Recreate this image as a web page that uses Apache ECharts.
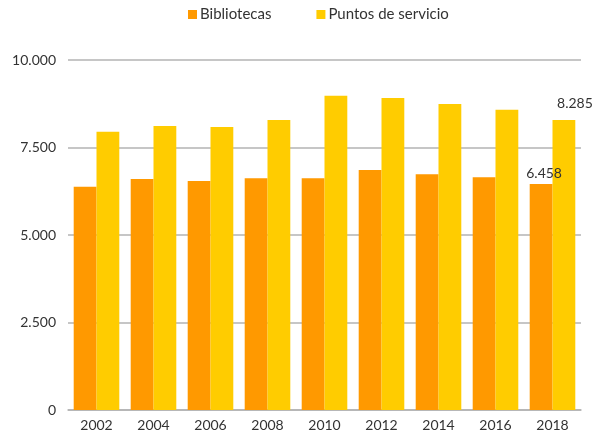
<!DOCTYPE html>
<html><head><meta charset="utf-8">
<script src="https://cdn.jsdelivr.net/npm/echarts@6/dist/echarts.min.js"></script>
<style>html,body{margin:0;padding:0;background:#fff}#c{width:595px;height:434px}</style>
</head><body><div id="c"></div>
<script>
const years = ['2002','2004','2006','2008','2010','2012','2014','2016','2018'];
const bibliotecas = [6380, 6600, 6543, 6619, 6619, 6857, 6733, 6648, 6458];
const puntos = [7951, 8114, 8086, 8286, 8980, 8914, 8743, 8580, 8285];
const yTicks = [0, 2500, 5000, 7500, 10000];

const fmt = v => String(v).replace(/\B(?=(\d{3})+(?!\d))/g, '.');
const font = 'Lato';
const chart = echarts.init(document.getElementById('c'), null, {renderer: 'canvas'});
const lastIdx = years.length - 1;
chart.setOption({
  animation: false,
  textStyle: {fontFamily: font},
  legend: {
    top: 2, left: 183, itemWidth: 9, itemHeight: 9, itemGap: 45,
    icon: 'rect',
    textStyle: {fontFamily: font, fontSize: 15, color: '#333', padding: [0,0,0,-2]},
    data: ['Bibliotecas', 'Puntos de servicio']
  },
  grid: {left: 68, right: 14, top: 60, bottom: 24, containLabel: false},
  xAxis: {
    type: 'category', data: years,
    axisLine: {lineStyle: {color: '#b3b3b3', width: 1.5}},
    axisTick: {show: false},
    axisLabel: {fontFamily: font, fontSize: 14, color: '#333', margin: 8}
  },
  yAxis: {
    type: 'value', min: yTicks[0], max: yTicks[yTicks.length-1], interval: 2500,
    axisLine: {show: false}, axisTick: {show: false},
    splitLine: {lineStyle: {color: '#b3b3b3', width: 1.5}},
    axisLabel: {fontFamily: font, fontSize: 14, color: '#333', margin: 12, formatter: v => fmt(v)}
  },
  series: [
    {
      name: 'Bibliotecas', type: 'bar', barWidth: '40%', barGap: '0%',
      itemStyle: {color: '#FF9900'},
      data: bibliotecas.map((v, i) => i === lastIdx ? {value: v, label: {show: true, position: 'top', offset: [3, 2], formatter: p => fmt(p.value), fontFamily: font, fontSize: 14, color: '#333'}} : v)
    },
    {
      name: 'Puntos de servicio', type: 'bar', barWidth: '40%', barGap: '0%',
      itemStyle: {color: '#FFCC00'},
      data: puntos.map((v, i) => i === lastIdx ? {value: v, label: {show: true, position: 'top', offset: [11, -5], formatter: p => fmt(p.value), fontFamily: font, fontSize: 14, color: '#333'}} : v)
    }
  ]
});
</script></body></html>
